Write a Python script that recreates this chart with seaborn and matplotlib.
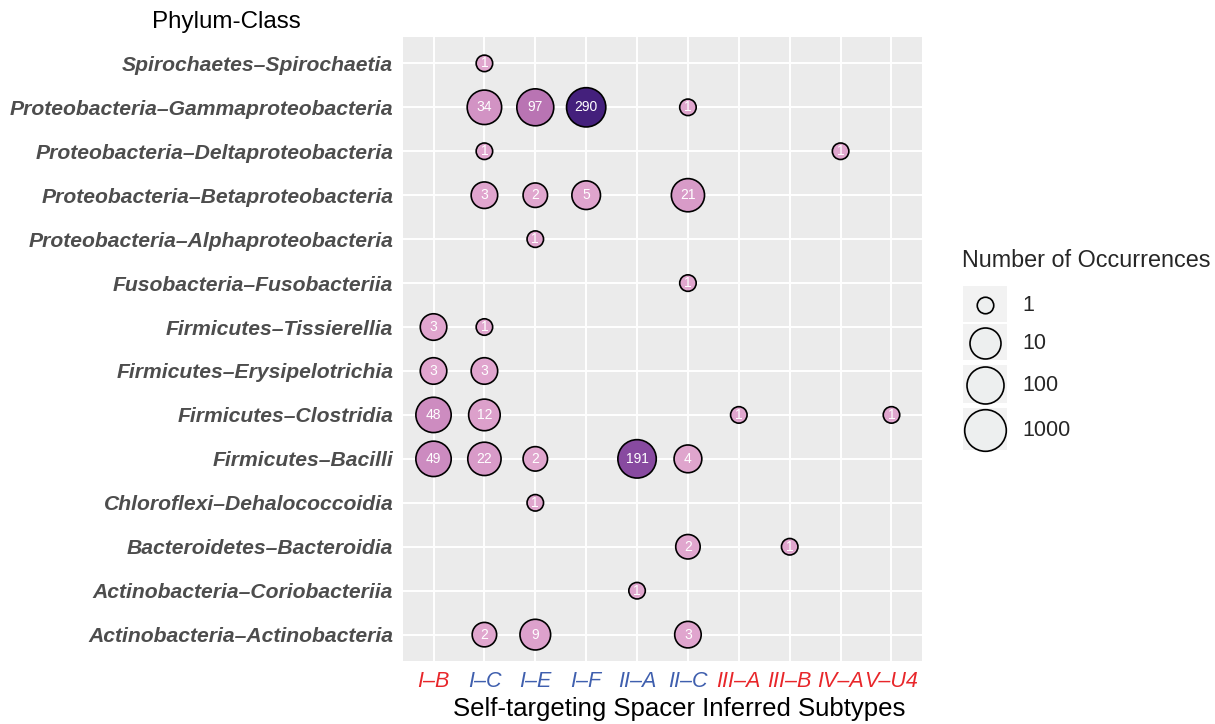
import numpy as np
import pandas as pd
import seaborn as sns
import matplotlib
matplotlib.use("Agg")
import matplotlib.pyplot as plt
from matplotlib.colors import LinearSegmentedColormap, Normalize
from matplotlib.patches import Rectangle

# ── Données ─────────────────────────────────────────────────────
subtypes = ["I-B", "I-C", "I-E", "I-F", "II-A", "II-C", "III-A", "III-B", "IV-A", "V-U4"]
subtype_colors = ["#E8262A", "#3F5FAE", "#3F5FAE", "#3F5FAE", "#3F5FAE", "#3F5FAE",
                  "#E8262A", "#E8262A", "#E8262A", "#E8262A"]

# ordre de haut en bas
taxa = [
    "Spirochaetes–Spirochaetia",
    "Proteobacteria–Gammaproteobacteria",
    "Proteobacteria–Deltaproteobacteria",
    "Proteobacteria–Betaproteobacteria",
    "Proteobacteria–Alphaproteobacteria",
    "Fusobacteria–Fusobacteriia",
    "Firmicutes–Tissierellia",
    "Firmicutes–Erysipelotrichia",
    "Firmicutes–Clostridia",
    "Firmicutes–Bacilli",
    "Chloroflexi–Dehalococcoidia",
    "Bacteroidetes–Bacteroidia",
    "Actinobacteria–Coriobacteriia",
    "Actinobacteria–Actinobacteria",
]

taxon_col = ["Spirochaetes–Spirochaetia",
             "Proteobacteria–Gammaproteobacteria", "Proteobacteria–Gammaproteobacteria",
             "Proteobacteria–Gammaproteobacteria", "Proteobacteria–Gammaproteobacteria",
             "Proteobacteria–Deltaproteobacteria", "Proteobacteria–Deltaproteobacteria",
             "Proteobacteria–Betaproteobacteria", "Proteobacteria–Betaproteobacteria",
             "Proteobacteria–Betaproteobacteria", "Proteobacteria–Betaproteobacteria",
             "Proteobacteria–Alphaproteobacteria",
             "Fusobacteria–Fusobacteriia",
             "Firmicutes–Tissierellia", "Firmicutes–Tissierellia",
             "Firmicutes–Erysipelotrichia", "Firmicutes–Erysipelotrichia",
             "Firmicutes–Clostridia", "Firmicutes–Clostridia", "Firmicutes–Clostridia",
             "Firmicutes–Clostridia",
             "Firmicutes–Bacilli", "Firmicutes–Bacilli", "Firmicutes–Bacilli",
             "Firmicutes–Bacilli", "Firmicutes–Bacilli",
             "Chloroflexi–Dehalococcoidia",
             "Bacteroidetes–Bacteroidia", "Bacteroidetes–Bacteroidia",
             "Actinobacteria–Coriobacteriia",
             "Actinobacteria–Actinobacteria", "Actinobacteria–Actinobacteria",
             "Actinobacteria–Actinobacteria"]
subtype_col = ["I-C",
               "I-C", "I-E", "I-F", "II-C",
               "I-C", "IV-A",
               "I-C", "I-E", "I-F", "II-C",
               "I-E",
               "II-C",
               "I-B", "I-C",
               "I-B", "I-C",
               "I-B", "I-C", "III-A", "V-U4",
               "I-B", "I-C", "I-E", "II-A", "II-C",
               "I-E",
               "II-C", "III-B",
               "II-A",
               "I-C", "I-E", "II-C"]
counts = [1,
          34, 97, 290, 1,
          1, 1,
          3, 2, 5, 21,
          1,
          1,
          3, 1,
          3, 3,
          48, 12, 1, 1,
          49, 22, 2, 191, 4,
          1,
          2, 1,
          1,
          2, 9, 3]

legend_values = [1, 10, 100, 1000]

# ── Style ───────────────────────────────────────────────────────
PANEL = "#EBEBEB"
TEXT = "#4D4D4D"
sns.set_theme(style="darkgrid", rc={
    "axes.facecolor": PANEL,
    "grid.color": "white",
    "grid.linewidth": 1.4,
})
plt.rcParams["font.family"] = ["Liberation Sans", "DejaVu Sans"]

CMAP = LinearSegmentedColormap.from_list(
    "occ", ["#E0A6CE", "#C27DB8", "#A663AA", "#773B9B", "#44207C"],
)
NORM = Normalize(vmin=1, vmax=290)


def diam_px(n):
    # diamètre (px) en fonction du nombre d'occurrences
    return 16.5 + 14.5 * np.sqrt(np.log10(np.asarray(n, dtype=float)))


def area_pt(n):
    return (diam_px(n) * 0.72) ** 2


df = pd.DataFrame({"taxon": taxon_col, "subtype": subtype_col, "n": counts})
df["x"] = df["subtype"].map({s: i for i, s in enumerate(subtypes)})
df["y"] = df["taxon"].map({t: i for i, t in enumerate(taxa)})

W, H = 1215, 724
fig = plt.figure(figsize=(W / 100, H / 100), dpi=100)
fig.patch.set_facecolor("white")
ax = fig.add_axes([403 / W, 1 - 661 / H, 519 / W, 624 / H])

sns.scatterplot(data=df, x="x", y="y", size="n", sizes=(area_pt(1), area_pt(290)),
                ax=ax, legend=False, zorder=3)
# réappliquer tailles et couleurs exactes
coll = ax.collections[0]
coll.set_sizes(area_pt(df["n"].values))
coll.set_facecolors(CMAP(NORM(df["n"].values)))
coll.set_edgecolors("black")
coll.set_linewidths(1.2)

for _, r in df.iterrows():
    ax.text(r["x"], r["y"], str(r["n"]), ha="center", va="center",
            color="white", fontsize=10, zorder=4)

ax.set_xlim(-0.6, len(subtypes) - 0.4)
ax.set_ylim(len(taxa) - 0.4, -0.6)
ax.set_xticks(range(len(subtypes)))
ax.set_xticklabels([s.replace("-", "–") for s in subtypes], fontsize=15.5, style="italic")
for lab, c in zip(ax.get_xticklabels(), subtype_colors):
    lab.set_color(c)
ax.set_yticks(range(len(taxa)))
ax.set_yticklabels(taxa, fontsize=15.2, style="italic", fontweight="bold", color=TEXT)
ax.tick_params(axis="both", length=4, width=1.1, color="#333333", pad=3)
ax.grid(True, which="major")
for s in ax.spines.values():
    s.set_visible(False)
ax.set_ylabel("")
ax.set_xlabel("")
fig.text(679 / W, 1 - 709 / H, "Self-targeting Spacer Inferred Subtypes",
         ha="center", va="center", fontsize=18.5, color="black")
fig.text(226 / W, 1 - 22 / H, "Phylum-Class", ha="center", va="center",
         fontsize=17.4, color="black")

# ── Légende manuelle ────────────────────────────────────────────
lax = fig.add_axes([955 / W, 1 - 460 / H, 260 / W, 230 / H])
lax.set_xlim(955, 1215)
lax.set_ylim(460, 230)
lax.axis("off")
lax.text(962, 260, "Number of Occurrences", fontsize=16.8, va="center", ha="left")
key_y = [305, 343, 385, 430]
key_h = [38, 38, 40, 44]
for v, yc, kh in zip(legend_values, key_y, key_h):
    lax.add_patch(Rectangle((963, yc - kh / 2), 44, kh - 2, facecolor="#F2F2F2",
                            edgecolor="none"))
    lax.scatter([985], [yc], s=area_pt(v), facecolor="#EDEFEF", edgecolor="black",
                linewidth=1.2, zorder=3)
    lax.text(1022, yc, str(v), fontsize=15.5, va="center", ha="left")

fig.savefig("out.png", dpi=100)
